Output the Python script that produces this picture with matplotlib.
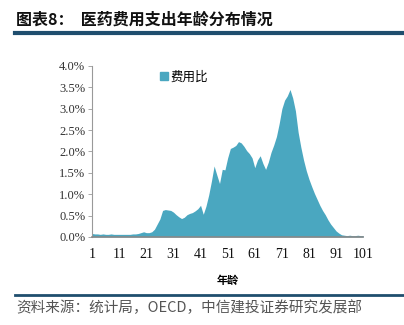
import matplotlib
matplotlib.use("Agg")
import matplotlib.pyplot as plt
from matplotlib.ticker import FuncFormatter
from matplotlib.patches import Patch

plt.rcParams['font.family'] = ['Noto Sans CJK SC', 'DejaVu Sans']

# 年龄 1..101 对应费用占比(%)
ages = list(range(1, 102))
share = [0.08, 0.07, 0.07, 0.06, 0.07, 0.06, 0.06, 0.07, 0.06, 0.06,
         0.06, 0.06, 0.06, 0.06, 0.06, 0.07, 0.07,
         0.08, 0.10, 0.12, 0.10, 0.10, 0.12, 0.18, 0.30, 0.42, 0.62,
         0.64, 0.63, 0.62, 0.58, 0.52, 0.47, 0.43, 0.46, 0.52, 0.55,
         0.57, 0.61, 0.66, 0.74, 0.53, 0.72, 0.98, 1.30, 1.66, 1.45,
         1.25, 1.58, 1.57, 1.85, 2.07, 2.10, 2.14, 2.23, 2.20, 2.12,
         2.02, 1.95, 1.85, 1.62, 1.80, 1.90, 1.72, 1.58, 1.75, 1.98,
         2.15, 2.35, 2.65, 3.00, 3.20, 3.30, 3.45, 3.25, 2.95, 2.45,
         2.10, 1.80, 1.55, 1.35, 1.18, 1.02, 0.88, 0.74, 0.62, 0.52,
         0.40, 0.30, 0.22, 0.14, 0.09, 0.05, 0.04, 0.03, 0.04, 0.03,
         0.03, 0.04, 0.03, 0.03]
xticks = list(range(1, 102, 10))
yticks = [0, 0.5, 1.0, 1.5, 2.0, 2.5, 3.0, 3.5, 4.0]

fill_color = "#4aa7c0"
navy = "#1f4e6e"

fig = plt.figure(figsize=(4.04, 3.25), dpi=100)
ax = fig.add_axes([0.228, 0.271, 0.671, 0.526])

ax.fill_between(ages, share, 0, color=fill_color, linewidth=0)
ax.set_xlim(1, 101)
ax.set_ylim(0, 4.0)
ax.set_xticks(xticks)
ax.set_yticks(yticks)
ax.yaxis.set_major_formatter(FuncFormatter(lambda v, p: f"{v:.1f}%"))

for s in ["top", "right"]:
    ax.spines[s].set_visible(False)
ax.spines["left"].set_color("#999999")
ax.spines["left"].set_linewidth(0.8)
ax.spines["bottom"].set_color("#888888")
ax.spines["bottom"].set_linewidth(1.2)

ax.tick_params(axis="y", length=3, width=0.6, color="#999999", pad=2)
ax.tick_params(axis="x", length=0, pad=8)
for lab in ax.get_yticklabels():
    lab.set_fontfamily("Liberation Serif")
    lab.set_fontsize(9)
    lab.set_color("#333333")
for lab in ax.get_xticklabels():
    lab.set_fontfamily("Liberation Serif")
    lab.set_fontsize(10)
    lab.set_color("#111111")

ax.set_xlabel("年龄", fontsize=8, fontweight="bold", labelpad=9)

leg = ax.legend(handles=[Patch(color=fill_color, label="费用比")],
                loc="upper left", bbox_to_anchor=(0.21, 1.04),
                frameon=False, fontsize=9, handlelength=0.6,
                handleheight=0.6, handletextpad=0.2)

# 标题与分隔线
fig.text(0.04, 0.94, "图表8：  医药费用支出年龄分布情况", fontsize=11.5,
         fontweight="bold", color="#111111", va="center")
fig.add_artist(plt.Line2D([0.037, 1.0], [0.897, 0.897], color=navy,
                          linewidth=3, transform=fig.transFigure))
fig.add_artist(plt.Line2D([0.037, 1.0], [0.092, 0.092], color=navy,
                          linewidth=2, transform=fig.transFigure))
fig.text(0.04, 0.052, "资料来源：统计局，OECD，中信建投证券研究发展部",
         fontsize=10.5, color="#555555", style="italic", va="center")

fig.savefig("out.png", dpi=100)
